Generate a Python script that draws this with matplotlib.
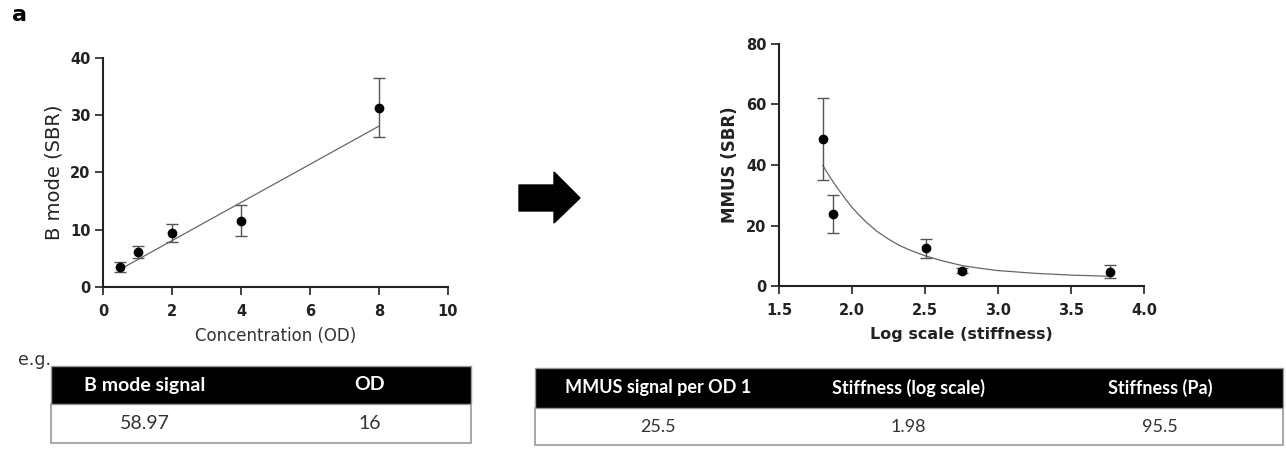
import matplotlib.pyplot as plt
from matplotlib.patches import Polygon, Rectangle
import numpy as np

# Left panel: B mode signal vs concentration
conc_od = [0.5, 1, 2, 4, 8]
bmode_sbr = [3.5, 6.1, 9.4, 11.6, 31.35]
bmode_err = [0.9, 1.1, 1.6, 2.75, 5.2]
bmode_fit_x = [0.5, 8]
bmode_fit_y = [3.1, 28.1]

# Right panel: MMUS signal vs log stiffness
log_stiff = [1.80, 1.87, 2.51, 2.75, 3.77]
mmus_sbr = [48.7, 23.9, 12.5, 5.1, 4.7]
mmus_err = [13.5, 6.3, 3.2, 0.8, 2.2]
# decay fit curve
mmus_fit_x = [1.80, 1.83, 1.86, 1.90, 1.95, 2.00, 2.05, 2.10, 2.17, 2.25, 2.32, 2.40,
              2.50, 2.62, 2.75, 2.87, 3.00, 3.25, 3.50, 3.77]
mmus_fit_y = [39.9, 37.5, 35.2, 32.4, 29.1, 26.0, 23.4, 21.0, 18.1, 15.5, 13.5, 11.8,
              10.0, 8.3, 6.8, 5.9, 5.1, 4.2, 3.6, 3.2]

# Tables
left_header = ['B mode signal', 'OD']
left_row = ['58.97', '16']
right_header = ['MMUS signal per OD 1', 'Stiffness (log scale)', 'Stiffness (Pa)']
right_row = ['25.5', '1.98', '95.5']

W, H = 1286, 449
fig = plt.figure(figsize=(W / 100, H / 100), dpi=100)


def fx(px):
    return px / W


def fy(py):
    return 1 - py / H


def style_axes(ax):
    for s in ['top', 'right']:
        ax.spines[s].set_visible(False)
    for s in ['left', 'bottom']:
        ax.spines[s].set_linewidth(1.5)
        ax.spines[s].set_color('#222222')
    ax.tick_params(length=5.5, width=1.2, color='#222222', labelsize=10.5)
    ax.tick_params(axis='x', pad=6.5)
    ax.tick_params(axis='y', pad=3.5)
    for lab in ax.get_xticklabels() + ax.get_yticklabels():
        lab.set_fontweight('bold')
        lab.set_color('#222222')


# left plot
ax1 = fig.add_axes([fx(103), fy(287), fx(448 - 103), (287 - 58) / H])
ax1.plot(bmode_fit_x, bmode_fit_y, color='#666666', lw=0.9, zorder=1)
ax1.errorbar(conc_od, bmode_sbr, yerr=bmode_err, fmt='o', color='black', ms=6,
             ecolor='#555555', elinewidth=1.0, capsize=4, capthick=1.0, zorder=3)
ax1.set_xlim(0, 10)
ax1.set_ylim(0, 40)
ax1.set_xticks(np.arange(0, 11, 2))
ax1.set_yticks(np.arange(0, 41, 10))
ax1.set_xlabel('Concentration (OD)', fontsize=12, color='#333333', labelpad=6)
ax1.set_ylabel('B mode (SBR)', fontsize=14, color='#222222', labelpad=5)
style_axes(ax1)

# right plot
ax2 = fig.add_axes([fx(779), fy(286), fx(1144 - 779), (286 - 44) / H])
ax2.plot(mmus_fit_x, mmus_fit_y, color='#666666', lw=0.9, zorder=1)
ax2.errorbar(log_stiff, mmus_sbr, yerr=mmus_err, fmt='o', color='black', ms=6,
             ecolor='#555555', elinewidth=1.0, capsize=4, capthick=1.0, zorder=3)
ax2.set_xlim(1.5, 4.0)
ax2.set_ylim(0, 80)
ax2.set_xticks(np.arange(1.5, 4.01, 0.5))
ax2.set_yticks(np.arange(0, 81, 20))
ax2.set_xlabel('Log scale (stiffness)', fontsize=11.5, fontweight='bold', color='#222222', labelpad=7)
ax2.set_ylabel('MMUS (SBR)', fontsize=12, fontweight='bold', color='#222222', labelpad=5)
style_axes(ax2)

# panel letter
fig.text(fx(12), fy(15), 'a', fontsize=16, fontweight='bold', ha='left', va='center')

# block arrow, drawn in inches
arrow_px = [(519, 185), (554, 185), (554, 172), (580, 198), (554, 223), (554, 211), (519, 211)]
arrow = Polygon([(x / 100, (H - y) / 100) for x, y in arrow_px], closed=True,
                facecolor='black', edgecolor='black', transform=fig.dpi_scale_trans)
fig.patches.append(arrow)


def draw_table(x0, x1, top, mid, bottom, centers, header, row, size):
    fig.patches.append(Rectangle((fx(x0), fy(bottom)), fx(x1 - x0), (bottom - mid) / H,
                                 transform=fig.transFigure, facecolor='white',
                                 edgecolor='#9a9a9a', lw=1.2))
    fig.patches.append(Rectangle((fx(x0), fy(mid)), fx(x1 - x0), (mid - top) / H,
                                 transform=fig.transFigure, facecolor='black',
                                 edgecolor='#9a9a9a', lw=1.0))
    for cx, h, v in zip(centers, header, row):
        fig.text(fx(cx), fy((top + mid) / 2), h, color='white', fontsize=size,
                 fontweight='bold', family='Lato', ha='center', va='center')
        fig.text(fx(cx), fy((mid + bottom) / 2), v, color='#333333', fontsize=size,
                 family='Lato', ha='center', va='center')


fig.text(fx(18), fy(360), 'e.g.', fontsize=12.5, color='#333333', ha='left', va='center')
draw_table(51, 471, 366, 404, 443, [145, 370], left_header, left_row, 14)
draw_table(535, 1283, 368, 408, 445, [658, 908, 1160], right_header, right_row, 13)

fig.savefig('out.png', dpi=100)
